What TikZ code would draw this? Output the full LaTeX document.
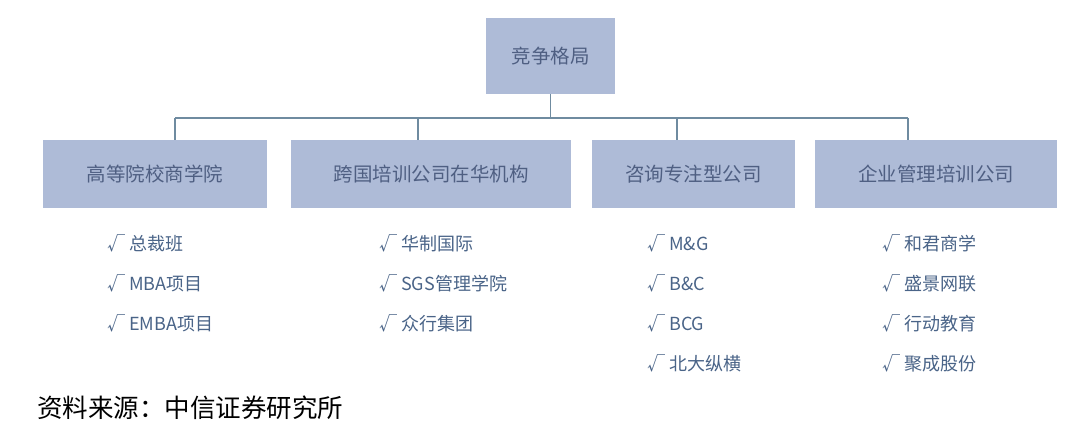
\documentclass[tikz,border=0pt]{standalone}
\usepackage{fontspec}
\setmainfont{Noto Sans CJK SC}
\definecolor{boxfill}{HTML}{AEBBD7}
\definecolor{boxtext}{HTML}{4F5F82}
\definecolor{itemtext}{HTML}{4A6488}
\definecolor{linecol}{HTML}{6F8BA0}
\tikzset{
  catbox/.style={fill=boxfill, draw=none, text=boxtext, font=\fontsize{19.5}{22}\selectfont, inner sep=0pt, anchor=center},
  item/.style={anchor=west, text=itemtext, font=\fontsize{18}{21}\selectfont, inner sep=0pt},
  conn/.style={draw=linecol, line width=1.6pt}
}
\begin{document}
\begin{tikzpicture}[x=1pt,y=-1pt]
\useasboundingbox (0,0) rectangle (1080,428);
\fill[white] (0,0) rectangle (1080,428);
\node[catbox, minimum width=129pt, minimum height=76pt] (top) at (550.5,56) {竞争格局};
\node[catbox, minimum width=224pt, minimum height=68pt] (b1) at (155,174) {高等院校商学院};
\node[catbox, minimum width=280pt, minimum height=68pt] (b2) at (431,174) {跨国培训公司在华机构};
\node[catbox, minimum width=203pt, minimum height=68pt] (b3) at (693.5,174) {咨询专注型公司};
\node[catbox, minimum width=242pt, minimum height=68pt] (b4) at (936,174) {企业管理培训公司};
\coordinate (j1) at (175,118);
\coordinate (j2) at (418,118);
\coordinate (j3) at (677,118);
\coordinate (j4) at (908,118);
\draw[conn] (top.south) -- (top.south |- j1);
\draw[conn] (j1) -- (j4);
\draw[conn] (j1) -- (j1 |- b1.north);
\draw[conn] (j2) -- (j2 |- b2.north);
\draw[conn] (j3) -- (j3 |- b3.north);
\draw[conn] (j4) -- (j4 |- b4.north);
% column 1
\node[item] (i11) at (107,243) {√ 总裁班};
\node[item] (i12) at (107,283) {√ MBA项目};
\node[item] (i13) at (107,323) {√ EMBA项目};
% column 2
\node[item] (i21) at (379,243) {√ 华制国际};
\node[item] (i22) at (379,283) {√ SGS管理学院};
\node[item] (i23) at (379,323) {√ 众行集团};
% column 3
\node[item] (i31) at (647,243) {√ M\&G};
\node[item] (i32) at (647,283) {√ B\&C};
\node[item] (i33) at (647,323) {√ BCG};
\node[item] (i34) at (647,363) {√ 北大纵横};
% column 4
\node[item] (i41) at (882,243) {√ 和君商学};
\node[item] (i42) at (882,283) {√ 盛景网联};
\node[item] (i43) at (882,323) {√ 行动教育};
\node[item] (i44) at (882,363) {√ 聚成股份};
% source
\node[anchor=west, inner sep=0pt, font=\fontsize{25.5}{28}\selectfont, text=black] (src) at (37,408) {资料来源：中信证券研究所};
\end{tikzpicture}
\end{document}
